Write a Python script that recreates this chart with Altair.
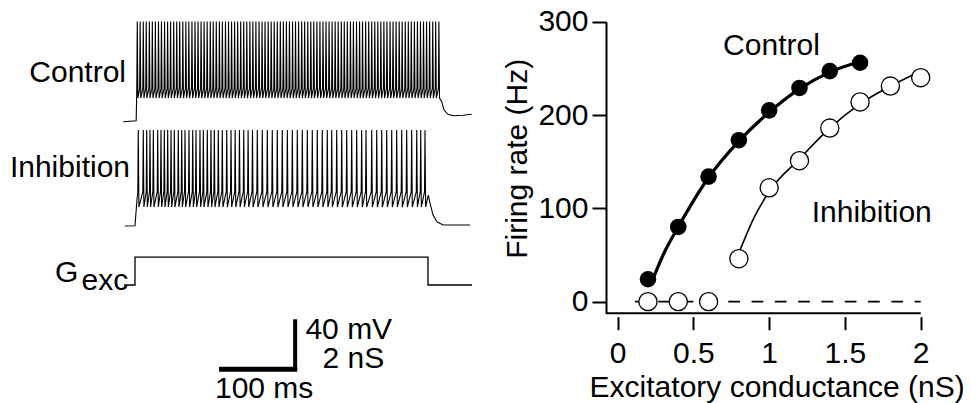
import altair as alt
import pandas as pd

FONT = "Liberation Sans"
FS = 30

# ---------------- data: left traces (time in ms from Gexc onset) ----------------
ctrl_spike_t = [2.9, 6.6, 10.6, 14.4, 18.4, 22.2, 26.1, 30.1, 33.9, 37.9, 41.8, 45.6, 49.6,
                53.5, 57.3, 61.3, 65.2, 69.0, 73.0, 76.9, 80.8, 84.7, 88.6, 92.5, 96.5, 100.3,
                104.2, 108.2, 112.0, 116.0, 119.9, 123.8, 127.7, 131.6, 135.5, 139.4, 143.3,
                147.3, 151.1, 155.0, 159.0, 162.9, 166.7, 170.7, 174.6, 178.5, 182.4, 186.3,
                190.2, 194.1, 198.0, 202.0, 205.8, 209.7, 213.7, 217.5, 221.5, 225.4, 229.2,
                233.2, 237.1, 241.0, 244.9, 248.8, 252.7, 256.6, 260.5, 264.5, 268.3, 272.2,
                276.2, 280.0, 284.0, 287.9, 291.7, 295.7, 299.6, 303.5, 307.4, 311.3, 315.2,
                319.1, 323.0, 327.0, 330.8, 334.7, 338.7, 342.5, 346.5, 350.4, 354.2, 358.2,
                362.1, 366.0, 369.9, 373.8, 377.7, 381.7, 385.5, 389.6]
ctrl_levels = {"peak": 14.8, "trough": -46.6, "thresh": -38.8}
ctrl_on_t = [-15.0, 1.5]
ctrl_on_mv = [-65.6, -64.8]
ctrl_off_t = [393.2, 396.2, 401.3, 408.1, 420.5, 431.7]
ctrl_off_mv = [-49.5, -56.2, -59.6, -60.8, -60.4, -59.6]

inh_spike_t = [4.2, 10.6, 15.0, 19.2, 23.5, 29.1, 33.3, 37.6, 41.9, 46.2, 50.4, 55.5, 59.9,
               64.1, 69.2, 74.0, 78.2, 83.3, 87.6, 92.7, 97.4, 101.7, 106.8, 111.9, 117.6,
               123.1, 128.4, 133.9, 139.4, 145.0, 150.6, 156.8, 163.2, 169.6, 176.0, 182.4,
               188.8, 195.3, 201.7, 208.1, 214.5, 220.9, 227.3, 233.7, 240.1, 246.5, 252.2,
               258.6, 265.0, 271.4, 277.8, 284.2, 290.6, 296.2, 303.5, 309.9, 316.3, 322.7,
               329.1, 335.5, 341.9, 348.3, 354.7, 361.2, 366.3, 371.8]
inh_levels = {"peak": 12.0, "trough": -49.8, "thresh": -37.5}
inh_on_t = [-13.0, 0.0, 2.5]
inh_on_mv = [-65.0, -64.8, -44.2]
inh_off_t = [376.0, 378.2, 382.1, 387.2, 394.9, 410.3, 429.5]
inh_off_mv = [-40.2, -46.6, -56.2, -61.6, -64.2, -64.2, -64.2]

gexc_t = [-14.0, 0.0, 0.0, 375.6, 375.6, 432.0]
gexc_ns = [0.0, 0.0, 1.12, 1.12, 0.0, 0.0]

# ---------------- data: right panel ----------------
g_points = [0.2, 0.4, 0.6, 0.8, 1.0, 1.2, 1.4, 1.6, 1.8, 2.0]
ctrl_rate = [24, 80, 134, 173, 205, 229, 247, 256, None, None]
inh_rate = [0, 0, 0, 46, 122, 151, 186, 214, 231, 240]

ctrl_fit_g = [0.22, 0.3, 0.4, 0.5, 0.6, 0.8, 1.0, 1.2, 1.4, 1.64]
ctrl_fit_r = [19, 50, 80, 108, 133, 172, 203, 228, 246, 259]
inh_fit_g = [0.8, 0.9, 1.0, 1.2, 1.4, 1.6, 1.8, 2.0]
inh_fit_r = [52, 90, 118, 153, 186, 212, 231, 247]


def build_trace(on_t, on_v, spikes, lv, off_t, off_v, rise=0.6, fall=0.8):
    t, v = list(on_t), list(on_v)
    for s in spikes:
        t += [s - rise, s, s + fall]
        v += [lv["thresh"], lv["peak"], lv["trough"]]
    t += list(off_t)
    v += list(off_v)
    return pd.DataFrame({"t": t, "v": v, "i": list(range(len(t)))})


ctrl_df = build_trace(ctrl_on_t, ctrl_on_mv, ctrl_spike_t, ctrl_levels, ctrl_off_t, ctrl_off_mv)
inh_df = build_trace(inh_on_t, inh_on_mv, inh_spike_t, inh_levels, inh_off_t, inh_off_mv)
gexc_df = pd.DataFrame({"t": gexc_t, "v": gexc_ns, "i": list(range(len(gexc_t)))})

XL = alt.Scale(domain=[-20, 440], range=[111.4, 470.2], nice=False, zero=False)


def txt(**kw):
    base = dict(font=FONT, fontSize=FS, color="black")
    base.update(kw)
    return base


def trace_group(df, yscale, label_rows, width=1.1):
    line = alt.Chart(df).mark_line(color="black", strokeWidth=width, strokeJoin="miter").encode(
        x=alt.X("t:Q", scale=XL, axis=None),
        y=alt.Y("v:Q", scale=yscale, axis=None),
        order="i:Q",
    )
    layers = [line]
    for (t, v, s, align) in label_rows:
        layers.append(
            alt.Chart(pd.DataFrame({"t": [t], "v": [v], "s": [s]}))
            .mark_text(**txt(align=align, baseline="alphabetic"))
            .encode(x=alt.X("t:Q", scale=XL, axis=None),
                    y=alt.Y("v:Q", scale=yscale, axis=None),
                    text="s:N")
        )
    return alt.layer(*layers)


ctrl_group = trace_group(
    ctrl_df, alt.Scale(domain=[-65, 15], range=[113, 13.2], nice=False, zero=False),
    [(-11.5, -33.5, "Control", "right")])
inh_group = trace_group(
    inh_df, alt.Scale(domain=[-65, 15], range=[218, 118.2], nice=False, zero=False),
    [(-6.4, -25.5, "Inhibition", "right")])
gexc_group = trace_group(
    gexc_df, alt.Scale(domain=[0, 2], range=[277, 227.1], nice=False, zero=False),
    [(-102.5, 0.12, "G", "left"), (-68.5, -0.22, "exc", "left")], width=1.3)

# scale bar: 100 ms, 40 mV / 2 nS
YB = alt.Scale(domain=[0, 40], range=[361.2, 311.3], nice=False, zero=False)
hbar = alt.Chart(pd.DataFrame({"t": [107.7], "t2": [208.0], "v": [0]})).mark_rule(
    color="black", strokeWidth=5).encode(
    x=alt.X("t:Q", scale=XL, axis=None), x2="t2:Q", y=alt.Y("v:Q", scale=YB, axis=None))
vbar = alt.Chart(pd.DataFrame({"t": [205.3], "v": [0], "v2": [40]})).mark_rule(
    color="black", strokeWidth=4).encode(
    x=alt.X("t:Q", scale=XL, axis=None), y=alt.Y("v:Q", scale=YB, axis=None), y2="v2:Q")
bar_text = []
for (t, v, s, align) in [(218.5, 24.0, "40 mV", "left"), (280.0, 1.2, "2 nS", "center"),
                         (165.6, -22.8, "100 ms", "center")]:
    bar_text.append(
        alt.Chart(pd.DataFrame({"t": [t], "v": [v], "s": [s]}))
        .mark_text(**txt(align=align, baseline="alphabetic"))
        .encode(x=alt.X("t:Q", scale=XL, axis=None), y=alt.Y("v:Q", scale=YB, axis=None), text="s:N"))
bar_group = alt.layer(hbar, vbar, *bar_text)

# ---------------- right panel ----------------
XR = alt.Scale(domain=[-0.077, 2.0], range=[598, 912.7], nice=False, zero=False)
YR = alt.Scale(domain=[-12.5, 300], range=[305.3, 13.7], nice=False, zero=False)
H = 395
x_axis = alt.Axis(orient="bottom", offset=308.7 - H, domain=False, grid=False,
                  values=[0, 0.5, 1, 1.5, 2], format="~g", tickSize=13, tickWidth=2,
                  tickColor="black", labelFont=FONT, labelFontSize=FS, labelColor="black",
                  labelBaseline="alphabetic", labelPadding=33, labelFlush=False,
                  labelOverlap=False, title="Excitatory conductance (nS)", titleFont=FONT,
                  titleFontSize=FS, titleFontWeight="normal", titleColor="black",
                  titleX=768.7, titleY=80, titleAlign="center", titleBaseline="alphabetic",
                  titleAnchor="middle")
y_axis = alt.Axis(orient="left", offset=-598, domain=True, domainWidth=2, domainColor="black",
                  grid=False, values=[0, 100, 200, 300], tickSize=14, tickWidth=2,
                  tickColor="black", labelFont=FONT, labelFontSize=FS, labelColor="black",
                  labelPadding=4, labelFlush=False, labelOverlap=False,
                  title="Firing rate (Hz)", titleFont=FONT, titleFontSize=FS,
                  titleFontWeight="normal", titleColor="black", titleAngle=270,
                  titleX=-79.3, titleY=150.3, titleAlign="center", titleBaseline="alphabetic")


def rx(field="g"):
    return alt.X(f"{field}:Q", scale=XR, axis=x_axis)


def ry(field="r"):
    return alt.Y(f"{field}:Q", scale=YR, axis=y_axis)


axis_line = alt.Chart(pd.DataFrame({"g": [-0.077], "g2": [2.0], "r": [-12.5]})).mark_rule(
    color="black", strokeWidth=2).encode(x=rx(), x2="g2:Q", y=ry())
zero_line = alt.Chart(pd.DataFrame({"g": [0.066, 2.0], "r": [0, 0]})).mark_line(
    color="black", strokeWidth=1.8, strokeDash=[11.7, 11.6], strokeDashOffset=15.9).encode(
    x=rx(), y=ry())
ctrl_fit = alt.Chart(pd.DataFrame({"g": ctrl_fit_g, "r": ctrl_fit_r})).mark_line(
    color="black", strokeWidth=3.2, interpolate="monotone").encode(x=rx(), y=ry())
inh_fit = alt.Chart(pd.DataFrame({"g": inh_fit_g, "r": inh_fit_r})).mark_line(
    color="black", strokeWidth=1.6, interpolate="monotone").encode(x=rx(), y=ry())
pts = pd.DataFrame({"g": g_points, "c": ctrl_rate, "r": inh_rate})
inh_pts = alt.Chart(pts).mark_point(
    shape="circle", filled=True, fill="white", stroke="black", strokeWidth=1.3, size=330,
    opacity=1).encode(x=rx(), y=ry())
ctrl_pts = alt.Chart(pts.dropna()).mark_point(
    shape="circle", filled=True, color="black", size=275, opacity=1).encode(
    x=rx(), y=ry("c"))
right_text = alt.Chart(pd.DataFrame({"g": [1.015, 1.677], "r": [264.3, 85.7],
                                     "s": ["Control", "Inhibition"]})).mark_text(
    **txt(align="center", baseline="alphabetic")).encode(x=rx(), y=ry(), text="s:N")

right_group = alt.layer(zero_line, ctrl_fit, inh_fit, inh_pts, ctrl_pts, axis_line, right_text)

chart = alt.layer(ctrl_group, inh_group, gexc_group, bar_group, right_group).resolve_scale(
    x="independent", y="independent"
).properties(
    width=955, height=H, padding=0, background="white",
    autosize=alt.AutoSizeParams(type="none"),
).configure_view(stroke=None)

chart.save("out.html", embed_options={"renderer": "svg", "actions": False})
